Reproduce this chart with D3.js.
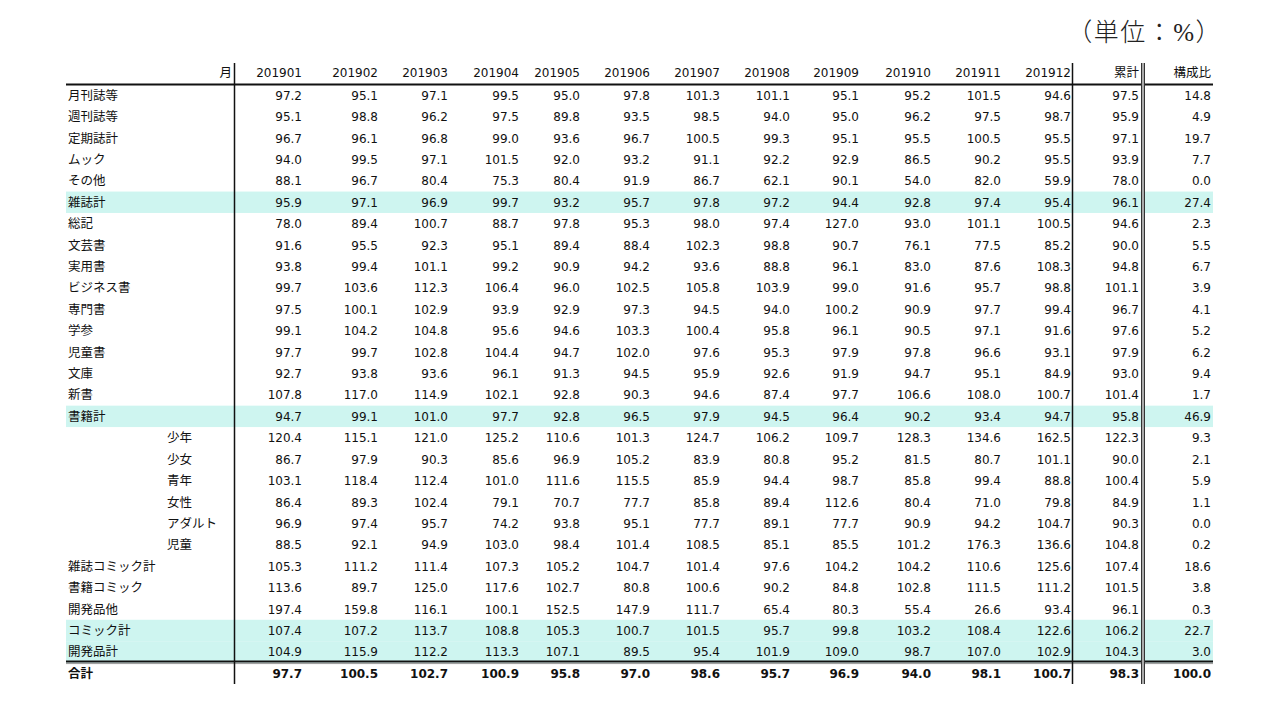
<!DOCTYPE html>
<html><head><meta charset="utf-8">
<script src="https://cdn.jsdelivr.net/npm/d3@7"></script>
<style>
html,body{margin:0;padding:0;background:#fff;}
svg{display:block;}
</style></head>
<body>
<svg id="chart" width="1280" height="720"></svg>
<script>
// ---------- data ----------
const unitLabel = "（単位：%）";
const cornerLabel = "月";
const months = ["201901","201902","201903","201904","201905","201906","201907","201908","201909","201910","201911","201912"];
const extraCols = ["累計","構成比"];
const categories = ["月刊誌等","週刊誌等","定期誌計","ムック","その他","雑誌計","総記","文芸書","実用書","ビジネス書","専門書","学参","児童書","文庫","新書","書籍計","少年","少女","青年","女性","アダルト","児童","雑誌コミック計","書籍コミック","開発品他","コミック計","開発品計","合計"];
const indented = ["少年","少女","青年","女性","アダルト","児童"];
const highlighted = ["雑誌計","書籍計","コミック計","開発品計"];
const boldRows = ["合計"];
// monthly values (12 months) + 累計 + 構成比, per category in the same order as categories
const rowValues = [
 [97.2,95.1,97.1,99.5,95.0,97.8,101.3,101.1,95.1,95.2,101.5,94.6,97.5,14.8],
 [95.1,98.8,96.2,97.5,89.8,93.5,98.5,94.0,95.0,96.2,97.5,98.7,95.9,4.9],
 [96.7,96.1,96.8,99.0,93.6,96.7,100.5,99.3,95.1,95.5,100.5,95.5,97.1,19.7],
 [94.0,99.5,97.1,101.5,92.0,93.2,91.1,92.2,92.9,86.5,90.2,95.5,93.9,7.7],
 [88.1,96.7,80.4,75.3,80.4,91.9,86.7,62.1,90.1,54.0,82.0,59.9,78.0,0.0],
 [95.9,97.1,96.9,99.7,93.2,95.7,97.8,97.2,94.4,92.8,97.4,95.4,96.1,27.4],
 [78.0,89.4,100.7,88.7,97.8,95.3,98.0,97.4,127.0,93.0,101.1,100.5,94.6,2.3],
 [91.6,95.5,92.3,95.1,89.4,88.4,102.3,98.8,90.7,76.1,77.5,85.2,90.0,5.5],
 [93.8,99.4,101.1,99.2,90.9,94.2,93.6,88.8,96.1,83.0,87.6,108.3,94.8,6.7],
 [99.7,103.6,112.3,106.4,96.0,102.5,105.8,103.9,99.0,91.6,95.7,98.8,101.1,3.9],
 [97.5,100.1,102.9,93.9,92.9,97.3,94.5,94.0,100.2,90.9,97.7,99.4,96.7,4.1],
 [99.1,104.2,104.8,95.6,94.6,103.3,100.4,95.8,96.1,90.5,97.1,91.6,97.6,5.2],
 [97.7,99.7,102.8,104.4,94.7,102.0,97.6,95.3,97.9,97.8,96.6,93.1,97.9,6.2],
 [92.7,93.8,93.6,96.1,91.3,94.5,95.9,92.6,91.9,94.7,95.1,84.9,93.0,9.4],
 [107.8,117.0,114.9,102.1,92.8,90.3,94.6,87.4,97.7,106.6,108.0,100.7,101.4,1.7],
 [94.7,99.1,101.0,97.7,92.8,96.5,97.9,94.5,96.4,90.2,93.4,94.7,95.8,46.9],
 [120.4,115.1,121.0,125.2,110.6,101.3,124.7,106.2,109.7,128.3,134.6,162.5,122.3,9.3],
 [86.7,97.9,90.3,85.6,96.9,105.2,83.9,80.8,95.2,81.5,80.7,101.1,90.0,2.1],
 [103.1,118.4,112.4,101.0,111.6,115.5,85.9,94.4,98.7,85.8,99.4,88.8,100.4,5.9],
 [86.4,89.3,102.4,79.1,70.7,77.7,85.8,89.4,112.6,80.4,71.0,79.8,84.9,1.1],
 [96.9,97.4,95.7,74.2,93.8,95.1,77.7,89.1,77.7,90.9,94.2,104.7,90.3,0.0],
 [88.5,92.1,94.9,103.0,98.4,101.4,108.5,85.1,85.5,101.2,176.3,136.6,104.8,0.2],
 [105.3,111.2,111.4,107.3,105.2,104.7,101.4,97.6,104.2,104.2,110.6,125.6,107.4,18.6],
 [113.6,89.7,125.0,117.6,102.7,80.8,100.6,90.2,84.8,102.8,111.5,111.2,101.5,3.8],
 [197.4,159.8,116.1,100.1,152.5,147.9,111.7,65.4,80.3,55.4,26.6,93.4,96.1,0.3],
 [107.4,107.2,113.7,108.8,105.3,100.7,101.5,95.7,99.8,103.2,108.4,122.6,106.2,22.7],
 [104.9,115.9,112.2,113.3,107.1,89.5,95.4,101.9,109.0,98.7,107.0,102.9,104.3,3.0],
 [97.7,100.5,102.7,100.9,95.8,97.0,98.6,95.7,96.9,94.0,98.1,100.7,98.3,100.0]
];

// ---------- layout ----------
const columns = months.concat(extraCols);
// right edges of columns (Excel-like uneven widths)
const colRight = [302,378,448,519,580,650,720,790,859,931,1001,1071,1139,1211];
const tableLeft = 66, tableRight = 1213;
const numFont = "'DejaVu Sans', Verdana, 'Noto Sans CJK JP', sans-serif";
const jpFont = "'Noto Sans CJK JP', 'DejaVu Sans', sans-serif";

const svg = d3.select("#chart");
const y = d3.scaleBand().domain(categories).range([84, 683.5]).paddingInner(0).paddingOuter(0);
const xCol = d3.scaleOrdinal().domain(columns).range(colRight);

// highlight bands
svg.append("g").selectAll("rect").data(categories.filter(c => highlighted.includes(c)))
  .join("rect")
  .attr("x", tableLeft).attr("width", tableRight - tableLeft)
  .attr("y", d => y(d) + 0.5).attr("height", y.bandwidth())
  .attr("fill", "#cef5f0");

// unit label
svg.append("text").attr("x", 1222).attr("y", 41).attr("text-anchor", "end")
  .attr("font-family", "'Liberation Serif', 'Noto Sans CJK JP', serif")
  .attr("font-size", 25).attr("font-weight", 300).attr("letter-spacing", 1.5)
  .attr("fill", "#222").text(unitLabel);

// header
const hy = 77;
svg.append("text").attr("x", 232).attr("y", hy).attr("text-anchor", "end")
  .attr("font-family", jpFont).attr("font-size", 12.5).attr("fill", "#111").text(cornerLabel);
svg.append("g").selectAll("text").data(columns).join("text")
  .attr("x", d => xCol(d)).attr("y", hy).attr("text-anchor", "end")
  .attr("font-family", d => months.includes(d) ? numFont : jpFont)
  .attr("font-size", d => months.includes(d) ? 12 : 12.5)
  .attr("fill", "#111").text(d => d);

// row labels
svg.append("g").selectAll("text").data(categories).join("text")
  .attr("x", d => indented.includes(d) ? 167 : 68)
  .attr("y", d => y(d) + y.bandwidth() / 2 + 5)
  .attr("font-family", jpFont).attr("font-size", 12.5)
  .attr("font-weight", d => boldRows.includes(d) ? "bold" : "normal")
  .attr("fill", "#111").text(d => d);

// values
const cells = [];
categories.forEach((c, i) => rowValues[i].forEach((v, j) => cells.push({cat: c, col: columns[j], v})));
svg.append("g").selectAll("text").data(cells).join("text")
  .attr("x", d => xCol(d.col))
  .attr("y", d => y(d.cat) + y.bandwidth() / 2 + 5)
  .attr("text-anchor", "end")
  .attr("font-family", numFont).attr("font-size", 12)
  .attr("font-weight", d => boldRows.includes(d.cat) ? "bold" : "normal")
  .attr("fill", "#111").text(d => d3.format(".1f")(d.v));

// rules
const g = svg.append("g").attr("fill", "none");
g.append("line").attr("x1", tableLeft).attr("x2", tableRight).attr("y1", 84.5).attr("y2", 84.5)
  .attr("stroke", "#111").attr("stroke-width", 2);
const totY = y("合計");
g.append("line").attr("x1", tableLeft).attr("x2", tableRight).attr("y1", totY - 0.5).attr("y2", totY - 0.5)
  .attr("stroke", "#111").attr("stroke-width", 2);
g.append("line").attr("x1", tableLeft).attr("x2", tableRight).attr("y1", totY + 1.5).attr("y2", totY + 1.5)
  .attr("stroke", "#999").attr("stroke-width", 1);
// verticals
g.append("line").attr("x1", 234.5).attr("x2", 234.5).attr("y1", 63).attr("y2", 684)
  .attr("stroke", "#111").attr("stroke-width", 1.5);
g.append("line").attr("x1", 1072.5).attr("x2", 1072.5).attr("y1", 63).attr("y2", 684)
  .attr("stroke", "#111").attr("stroke-width", 1.5);
g.append("rect").attr("x", 1141).attr("y", 63).attr("width", 4).attr("height", 621).attr("fill", "#aaa");
g.append("line").attr("x1", 1141.5).attr("x2", 1141.5).attr("y1", 63).attr("y2", 684)
  .attr("stroke", "#333").attr("stroke-width", 1);
g.append("line").attr("x1", 1144.5).attr("x2", 1144.5).attr("y1", 63).attr("y2", 684)
  .attr("stroke", "#333").attr("stroke-width", 1);
</script>
</body></html>
